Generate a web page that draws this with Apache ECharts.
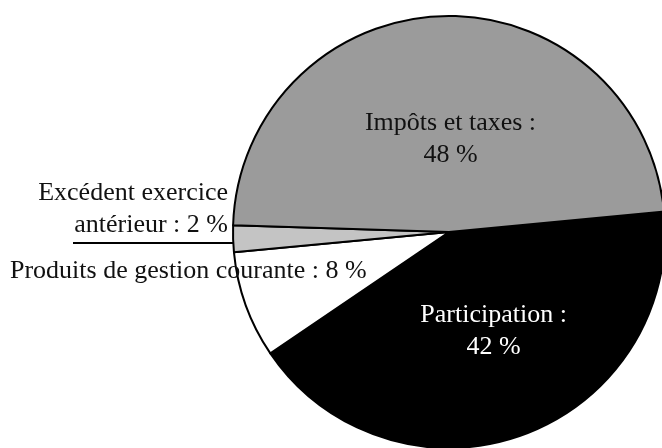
<!DOCTYPE html>
<html>
<head>
<meta charset="utf-8">
<script src="https://cdn.jsdelivr.net/npm/echarts@6/dist/echarts.min.js"></script>
<style>
html,body{margin:0;padding:0;background:#fff;}
#c{width:662px;height:448px;}
</style>
</head>
<body>
<div id="c"></div>
<script>
// Data (clockwise from the Participation / Impôts boundary)
var categories = ['Participation', 'Produits de gestion courante', 'Excédent exercice\nantérieur', 'Impôts et taxes'];
var values = [42, 8, 2, 48];

var colors = ['#000000', '#ffffff', '#c4c4c4', '#9b9b9b'];
var labelFmt = ['{b} :\n{c} %', '{b} : {c} %', '{b} : {c} %', '{b} :\n{c} %'];
var labelColors = ['#ffffff', '#111111', '#111111', '#111111'];
var labelOffsets = [[7, -5], [0, 0], [0, 0], [5, 18]];

var data = categories.map(function (name, i) {
  var inside = (i === 0 || i === 3);
  return {
    name: name,
    value: values[i],
    itemStyle: { color: colors[i] },
    label: {
      show: true,
      position: inside ? 'inside' : 'outside',
      formatter: labelFmt[i],
      color: labelColors[i],
      offset: labelOffsets[i],
      align: inside ? 'center' : (i === 2 ? 'right' : 'left')
    },
    labelLine: { show: i === 2, lineStyle: { color: '#000', width: 2 } }
  };
});

var chart = echarts.init(document.getElementById('c'), null, { renderer: 'canvas' });
chart.setOption({
  animation: false,
  backgroundColor: '#ffffff',
  series: [{
    type: 'pie',
    center: [449, 232],
    radius: 216,
    startAngle: 5.4,
    clockwise: true,
    avoidLabelOverlap: false,
    itemStyle: { borderColor: '#000', borderWidth: 2 },
    label: {
      fontFamily: 'Liberation Serif',
      fontSize: 26,
      lineHeight: 32,
      color: '#111'
    },
    emphasis: { disabled: true },
    labelLayout: function (p) {
      if (p.dataIndex === 2) {
        return {
          x: 228, y: 209, align: 'right', verticalAlign: 'middle',
          labelLinePoints: [[265, 243], [234, 243], [73, 243]]
        };
      }
      if (p.dataIndex === 1) {
        return { x: 10, y: 271, align: 'left', verticalAlign: 'middle' };
      }
      return {};
    },
    data: data
  }]
});
</script>
</body>
</html>
